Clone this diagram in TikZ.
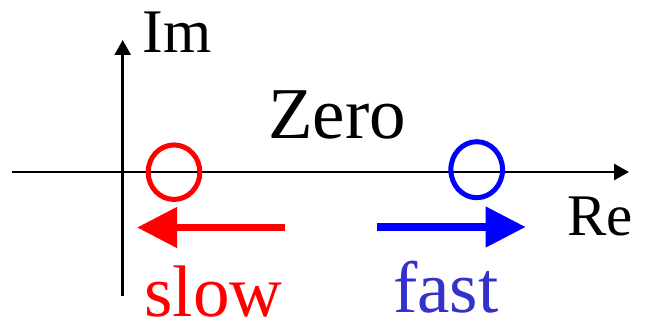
\documentclass[tikz,border=0pt]{standalone}
\usepackage{fontspec}
\setmainfont{Liberation Serif}
\usetikzlibrary{arrows.meta,shapes.geometric}
\definecolor{zred}{HTML}{FF0000}
\definecolor{zblue}{HTML}{0000FF}
\definecolor{fastblue}{HTML}{3333CC}
\tikzset{
  axis/.style={line width=2.8pt,-{Triangle[length=15pt,width=16pt]}},
  zerobox/.style={ellipse,draw,line width=5pt,minimum width=51.7pt,minimum height=54.5pt,inner sep=0pt},
  movearrow/.style={line width=7.5pt,-{Triangle[length=40pt,width=39pt]}},
  lbl/.style={anchor=base,inner sep=0pt,outer sep=0pt}
}
\begin{document}
\begin{tikzpicture}[x=1pt,y=-1pt]
\useasboundingbox (0,0) rectangle (645,326);
\fill[white] (0,0) rectangle (645,326);
% axes
\coordinate (xL) at (12,172);
\coordinate (xR) at (629,172);
\coordinate (yB) at (122.7,296);
\coordinate (yT) at (122.7,40);
\draw[axis] (xL) -- (xR);
\draw[axis] (yB) -- (yT);
% labels
\node[lbl,font=\fontsize{62}{62}\selectfont] (im) at (177.2,52.7) {Im};
\node[lbl,font=\fontsize{73}{73}\selectfont] (zero) at (337,138.3) {Zero};
\node[lbl,font=\fontsize{59}{59}\selectfont] (re) at (599.8,235) {Re};
% zeros
\node[zerobox,draw=zred] (z1) at (174,172.2) {};
\node[zerobox,draw=zblue,minimum height=56pt] (z2) at (476.7,169.7) {};
% movement arrows
\coordinate (rs) at (285,227.5);
\coordinate (re2) at (137,227.5);
\coordinate (bs) at (376.7,227);
\coordinate (be) at (525.7,227);
\draw[movearrow,draw=zred,fill=zred] (rs) -- (re2);
\draw[movearrow,draw=zblue,fill=zblue] (bs) -- (be);
\node[lbl,text depth=0pt,font=\fontsize{73}{73}\selectfont,text=zred] (slow) at (213.3,316.7) {slow};
\node[lbl,text depth=0pt,font=\fontsize{73}{73}\selectfont,text=fastblue] (fast) at (445.8,312.7) {fast};
\end{tikzpicture}
\end{document}
